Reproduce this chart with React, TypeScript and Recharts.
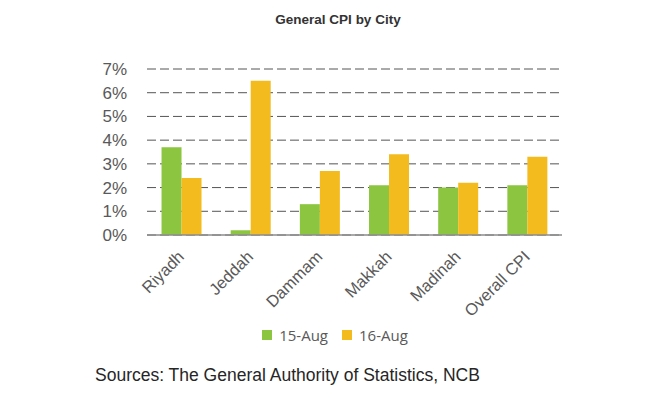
import { BarChart, Bar, XAxis, YAxis, CartesianGrid, Legend } from 'recharts'

const cities = ['Riyadh', 'Jeddah', 'Dammam', 'Makkah', 'Madinah', 'Overall CPI']
const aug15 = [3.7, 0.2, 1.3, 2.1, 2.0, 2.1]
const aug16 = [2.4, 6.5, 2.7, 3.4, 2.2, 3.3]
const yTicks = [0, 1, 2, 3, 4, 5, 6, 7]

const data = cities.map((city, i) => ({ city, aug15: aug15[i], aug16: aug16[i] }))

const GREEN = '#8cc540'
const YELLOW = '#f4bb1e'

function CityTick(props: any) {
  const { x, y, payload } = props
  return (
    <g transform={`translate(${x},${y})`}>
      <text
        x={-8}
        y={0}
        dy={13}
        textAnchor="end"
        transform="rotate(-45)"
        fill="#595959"
        fontSize={16.5}
        fontFamily="'Liberation Sans', Arial, sans-serif"
      >
        {payload.value}
      </text>
    </g>
  )
}

function LegendBox() {
  const items = [
    { label: '15-Aug', color: GREEN },
    { label: '16-Aug', color: YELLOW },
  ]
  return (
    <div style={{ display: 'flex', justifyContent: 'center', gap: '14px', paddingLeft: '10px', height: '21px' }}>
      {items.map((it) => (
        <div key={it.label} style={{ display: 'flex', alignItems: 'center', gap: '7px' }}>
          <div style={{ width: '10px', height: '10px', background: it.color }} />
          <span style={{ fontSize: '15px', color: '#595959', fontFamily: "'Open Sans', sans-serif" }}>{it.label}</span>
        </div>
      ))}
    </div>
  )
}

export default function App() {
  return (
    <div style={{ position: 'absolute', left: 0, top: 0, width: 660, height: 398, background: '#fff' }}>
      <div style={{
        position: 'absolute', top: 12, left: 0, width: 676, textAlign: 'center',
        fontFamily: "'Liberation Sans', Arial, sans-serif", fontWeight: 700, fontSize: '13.5px', color: '#333',
      }}>
        General CPI by City
      </div>
      <BarChart
        width={660}
        height={398}
        data={data}
        margin={{ top: 69, right: 98, left: 0, bottom: 0 }}
        barCategoryGap="21%"
        barGap={0}
      >
        <CartesianGrid vertical={false} stroke="#555" strokeDasharray="9 4" />
        <XAxis
          dataKey="city"
          tick={<CityTick />}
          tickLine={false}
          axisLine={{ stroke: '#8c8c8c', strokeWidth: 1.5 }}
          interval={0}
          height={142}
        />
        <YAxis
          width={147}
          domain={[0, 7]}
          ticks={yTicks}
          interval={0}
          tickFormatter={(v: number) => `${v}%`}
          axisLine={false}
          tickLine={false}
          tickMargin={14}
          tick={{ fill: '#595959', fontSize: 17, fontFamily: "'Liberation Sans', Arial, sans-serif" }}
        />
        <Legend
          content={<LegendBox />}
          wrapperStyle={{ position: 'absolute', top: 324, left: 0, width: 660 }}
        />
        <Bar dataKey="aug15" name="15-Aug" fill={GREEN} isAnimationActive={false} />
        <Bar dataKey="aug16" name="16-Aug" fill={YELLOW} isAnimationActive={false} />
      </BarChart>
      <div style={{
        position: 'absolute', top: 365, left: 95,
        fontFamily: "'Liberation Sans', Arial, sans-serif", fontSize: '17.5px', color: '#262626',
      }}>
        Sources: The General Authority of Statistics, NCB
      </div>
    </div>
  )
}
